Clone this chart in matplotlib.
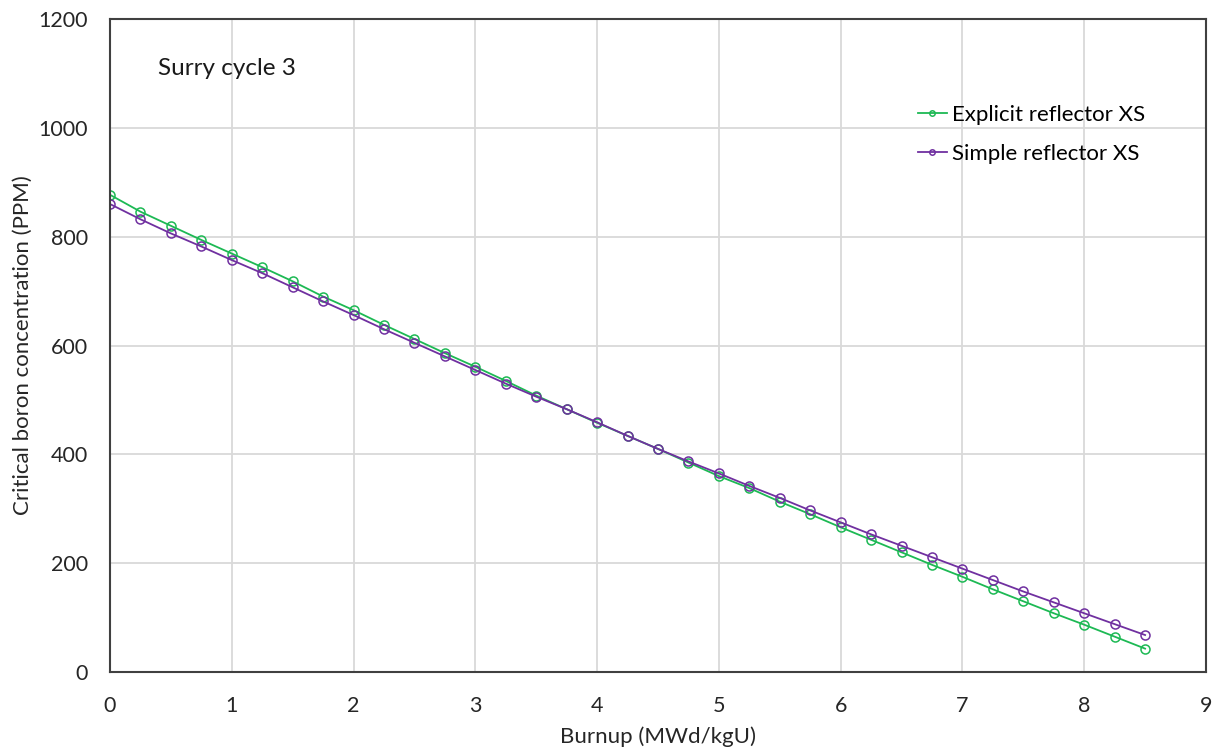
import matplotlib
matplotlib.use("Agg")
import matplotlib.pyplot as plt

plt.rcParams['font.family'] = ['Lato', 'DejaVu Sans']

# burnup points (MWd/kgU)
burnup = [0, 0.25, 0.5, 0.75, 1, 1.25, 1.5, 1.75, 2, 2.25, 2.5, 2.75, 3, 3.25, 3.5,
          3.75, 4, 4.25, 4.5, 4.75, 5, 5.25, 5.5, 5.75, 6, 6.25, 6.5, 6.75, 7,
          7.25, 7.5, 7.75, 8, 8.25, 8.5]

# critical boron concentration (PPM)
explicit_xs = [877, 846, 820, 794, 769, 744, 718, 690, 665, 638, 612, 586, 561, 535, 508,
               483, 458, 434, 410, 385, 360, 338, 313, 290, 266, 243, 220, 197, 175,
               152, 130, 108, 87, 65, 43]
simple_xs = [860, 832, 806, 782, 757, 733, 707, 681, 656, 630, 605, 580, 555, 530, 506,
             483, 459, 434, 410, 387, 365, 342, 320, 297, 275, 253, 232, 211, 190,
             169, 148, 128, 108, 88, 68]

fig = plt.figure(figsize=(12.21, 7.55), dpi=100)
ax = fig.add_axes([0.0901, 0.1099, 0.8976, 0.8649])

ax.plot(burnup, explicit_xs, color='#1db954', marker='o', markersize=6.5,
        markerfacecolor='none', markeredgewidth=1.1, linewidth=1.3,
        label='Explicit reflector XS')
ax.plot(burnup, simple_xs, color='#7030a0', marker='o', markersize=6.5,
        markerfacecolor='none', markeredgewidth=1.1, linewidth=1.3,
        label='Simple reflector XS')

ax.set_xlim(0, 9)
ax.set_ylim(0, 1200)
ax.set_xticks(range(0, 10))
ax.set_yticks(range(0, 1201, 200))
ax.grid(color='#d9d9d9', linewidth=1.3)
ax.set_axisbelow(True)
ax.tick_params(length=0, labelsize=15.5, colors='#262626')
ax.tick_params(axis='x', pad=17)
ax.tick_params(axis='y', pad=16)
for s in ax.spines.values():
    s.set_color('#404040')
    s.set_linewidth(1.5)

ax.set_xlabel('Burnup (MWd/kgU)', fontsize=16, color='#262626', labelpad=8)
ax.set_ylabel('Critical boron concentration (PPM)', fontsize=16, color='#262626', labelpad=4)

ax.text(0.044, 0.924, 'Surry cycle 3', transform=ax.transAxes, fontsize=17.5,
        color='#1a1a1a', va='center')

ax.legend(loc='upper left', bbox_to_anchor=(0.719, 0.899), frameon=False, fontsize=16,
          handlelength=1.3, handletextpad=0.25, labelspacing=0.85, markerscale=0.6)

fig.savefig('out.png', dpi=100)
